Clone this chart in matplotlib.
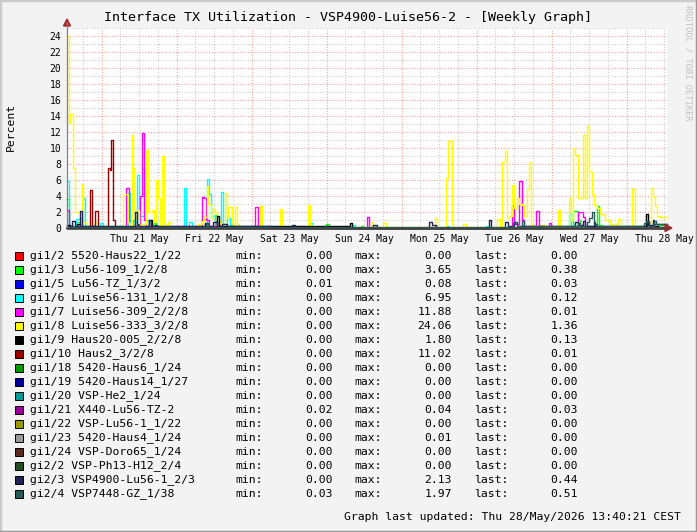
import matplotlib
matplotlib.use("Agg")
import matplotlib.pyplot as plt
from matplotlib.lines import Line2D
from matplotlib.patches import Rectangle, Polygon
from matplotlib.ticker import FixedLocator, MultipleLocator, NullFormatter

W, H = 697, 532
MONO = "DejaVu Sans Mono"

# time axis: hours since Wed 20 May 2026 00:00
t_start, t_end = 12.9, 204.9
day_ticks = [36, 60, 84, 108, 132, 156, 180, 204]
day_labels = ["Thu 21 May", "Fri 22 May", "Sat 23 May", "Sun 24 May",
              "Mon 25 May", "Tue 26 May", "Wed 27 May", "Thu 28 May"]

names = ["gi1/2 5520-Haus22_1/22", "gi1/3 Lu56-109_1/2/8", "gi1/5 Lu56-TZ_1/3/2",
         "gi1/6 Luise56-131_1/2/8", "gi1/7 Luise56-309_2/2/8", "gi1/8 Luise56-333_3/2/8",
         "gi1/9 Haus20-005_2/2/8", "gi1/10 Haus2_3/2/8", "gi1/18 5420-Haus6_1/24",
         "gi1/19 5420-Haus14_1/27", "gi1/20 VSP-He2_1/24", "gi1/21 X440-Lu56-TZ-2",
         "gi1/22 VSP-Lu56-1_1/22", "gi1/23 5420-Haus4_1/24", "gi1/24 VSP-Doro65_1/24",
         "gi2/2 VSP-Ph13-H12_2/4", "gi2/3 VSP4900-Lu56-1_2/3", "gi2/4 VSP7448-GZ_1/38"]
colors = ["#ff0000", "#00ff00", "#0000ff", "#00ffff", "#ff00ff", "#ffff00",
          "#000000", "#990000", "#009900", "#000099", "#009999", "#990099",
          "#999900", "#999999", "#582a22", "#225022", "#222255", "#2a5b5b"]
mins = [0.00, 0.00, 0.01, 0.00, 0.00, 0.00, 0.00, 0.00, 0.00,
        0.00, 0.00, 0.02, 0.00, 0.00, 0.00, 0.00, 0.00, 0.03]
maxs = [0.00, 3.65, 0.08, 6.95, 11.88, 24.06, 1.80, 11.02, 0.00,
        0.00, 0.00, 0.04, 0.00, 0.01, 0.00, 0.00, 2.13, 1.97]
lasts = [0.00, 0.38, 0.03, 0.12, 0.01, 1.36, 0.13, 0.01, 0.00,
         0.00, 0.00, 0.03, 0.00, 0.00, 0.00, 0.00, 0.44, 0.51]

# step data (time, value), value held until next time
g13_t = [12.9, 13.6, 15.8, 17.1, 34.1, 34.7, 40.7, 41.5, 60.3, 60.8, 95.8, 96.7, 106.9, 107.5,
         174.9, 176.4, 177.0, 182.4, 183.0, 184.0, 197.2, 198.2, 202.0, 204.9]
g13_v = [3.65, 0.2, 0.7, 0.2, 1.0, 0.1, 0.8, 0.1, 1.6, 0.1, 0.5, 0.0, 0.2, 0.0,
         2.1, 1.0, 0.3, 2.7, 0.4, 0.1, 0.4, 0.1, 0.38, 0.38]

g15_t = [12.9, 204.9]
g15_v = [0.03, 0.03]

g16_t = [12.9, 13.6, 15.8, 17.1, 17.6, 18.1, 18.7, 23.5, 24.5, 32.3, 33.1, 35.2, 36.0, 37.5,
         38.2, 39.0, 46.9, 47.5, 50.4, 50.9, 51.9, 52.8, 57.6, 58.2, 58.9, 60.3, 62.2, 62.7,
         64.0, 65.1, 66.0, 90.7, 91.4, 104.3, 105.2, 134.5, 135.0, 146.9, 147.5, 173.6, 174.3,
         202.0, 204.9]
g16_v = [5.9, 0.3, 1.1, 1.3, 0.8, 3.7, 0.3, 0.6, 0.1, 4.4, 0.8, 6.6, 1.5, 6.95,
         1.0, 0.3, 0.3, 0.0, 5.0, 0.0, 0.8, 0.2, 6.1, 4.2, 1.5, 0.8, 4.5, 0.5,
         1.2, 0.4, 0.1, 0.6, 0.0, 0.35, 0.0, 0.3, 0.0, 0.3, 0.0, 1.8, 0.3,
         0.12, 0.12]

g17_t = [12.9, 13.6, 31.7, 32.6, 36.3, 36.8, 37.5, 38.2, 56.2, 56.8, 57.4, 58.2, 60.8, 61.9,
         73.1, 73.9, 87.5, 88.0, 108.8, 109.5, 155.3, 156.0, 157.5, 158.4, 159.2, 163.0, 163.9,
         167.2, 167.8, 176.4, 177.9, 178.7, 180.0, 202.0, 204.9]
g17_v = [2.3, 0.1, 5.0, 0.3, 4.0, 11.88, 1.0, 0.2, 3.9, 3.7, 1.0, 0.3, 1.0, 0.1,
         2.6, 0.1, 0.2, 0.0, 1.4, 0.0, 2.9, 0.5, 5.9, 1.0, 0.2, 2.1, 0.1,
         0.6, 0.0, 2.0, 1.4, 0.3, 0.1, 0.01, 0.01]

g18_t = [12.9, 13.6, 14.0, 14.7, 15.5, 17.6, 18.1, 19.2, 19.6, 21.9, 22.7, 30.9, 31.6, 32.3,
         32.7, 33.6, 34.1, 34.3, 34.7, 35.2, 36.0, 38.2, 38.9, 40.0, 40.7, 41.5, 41.9, 42.7,
         43.3, 43.8, 44.5, 45.2, 46.1, 54.9, 56.2, 56.8, 57.6, 58.1, 58.9, 59.7, 60.3, 60.8,
         61.9, 63.5, 64.2, 64.5, 65.6, 66.7, 67.4, 68.0, 74.7, 75.2, 81.1, 81.6, 90.1, 90.7,
         91.4, 110.2, 110.9, 114.1, 115.0, 130.7, 131.4, 134.2, 134.9, 136.0, 136.5, 139.5,
         140.6, 150.6, 151.5, 152.2, 153.1, 153.8, 154.4, 155.2, 156.0, 156.8, 157.5, 158.4,
         159.2, 160.2, 160.7, 161.4, 162.0, 165.0, 166.0, 170.1, 170.7, 173.4, 174.1, 174.9,
         175.6, 176.4, 177.1, 177.9, 178.7, 179.4, 180.0, 180.8, 181.5, 182.4, 183.5, 185.1,
         186.6, 189.3, 190.1, 193.6, 194.7, 198.2, 198.9, 199.8, 200.5, 201.2, 201.8, 202.7,
         204.9]
g18_v = [24.06, 13.1, 14.3, 7.5, 2.0, 5.5, 0.6, 0.3, 0.1, 0.7, 0.1, 4.1, 4.2, 0.8,
         0.4, 11.6, 7.5, 2.2, 1.2, 2.2, 0.5, 9.8, 2.0, 2.2, 0.8, 6.0, 3.8, 0.4,
         9.0, 0.5, 0.3, 0.8, 0.1, 0.5, 0.9, 1.4, 5.3, 3.0, 1.2, 2.4, 2.0, 1.0,
         0.5, 4.4, 1.2, 2.6, 0.5, 2.6, 0.5, 0.1, 2.8, 0.1, 2.4, 0.1, 2.9, 0.4,
         0.1, 0.75, 0.1, 0.6, 0.1, 1.2, 0.1, 6.3, 10.9, 0.5, 0.1, 0.5,
         0.1, 1.1, 0.3, 8.3, 9.6, 1.2, 1.5, 5.4, 2.5, 3.7, 3.0, 2.9,
         1.5, 4.9, 8.2, 0.5, 0.2, 0.4, 0.1, 2.2, 0.1, 3.8, 1.0, 10.0,
         9.1, 3.7, 3.8, 11.6, 3.7, 12.75, 7.0, 4.2, 2.9, 2.5, 1.7, 1.0,
         0.5, 1.1, 0.2, 4.9, 0.2, 1.5, 0.6, 4.95, 3.9, 2.7, 1.5, 1.36,
         1.36]

g19_t = [12.9, 14.0, 16.0, 17.0, 21.0, 22.0, 39.2, 40.0, 41.0, 57.0, 58.0, 61.0, 61.5,
         103.5, 104.1, 198.3, 198.8, 200.0, 202.0, 204.9]
g19_v = [0.4, 0.1, 0.5, 0.1, 0.3, 0.1, 1.0, 0.2, 0.1, 0.6, 0.1, 1.5, 0.2,
         0.6, 0.0, 1.8, 0.4, 0.2, 0.13, 0.13]

g110_t = [12.9, 20.3, 21.0, 22.0, 22.7, 26.1, 26.7, 27.0, 27.5, 28.3, 30.0, 164.0, 165.0, 204.9]
g110_v = [0.1, 4.8, 0.2, 2.1, 0.1, 7.5, 7.2, 11.02, 1.0, 0.1, 0.0, 0.2, 0.0, 0.01]

g121_t = [12.9, 204.9]
g121_v = [0.03, 0.03]

g123_t = [12.9, 204.9]
g123_v = [0.0, 0.0]

g23_t = [12.9, 14.5, 15.3, 17.1, 17.8, 19.0, 34.7, 35.2, 39.0, 39.8, 41.0, 41.8, 59.7, 60.8,
         62.5, 64.0, 78.4, 84.8, 85.9, 95.5, 96.0, 110.7, 112.2, 128.8, 129.6, 131.0, 147.9,
         148.7, 153.1, 154.0, 156.0, 156.8, 175.5, 176.4, 178.1, 178.7, 181.5, 182.0, 198.4,
         199.0, 200.3, 200.8, 202.0, 204.9]
g23_v = [0.3, 0.9, 0.3, 2.13, 0.3, 0.2, 2.0, 0.3, 1.0, 0.3, 0.4, 0.2, 0.8, 0.2,
         0.5, 0.2, 0.0, 0.4, 0.0, 0.3, 0.0, 0.4, 0.0, 0.7, 0.4, 0.0, 1.0,
         0.0, 0.7, 0.2, 0.8, 0.3, 0.8, 0.4, 0.9, 0.3, 0.7, 0.2, 0.8,
         0.3, 1.0, 0.5, 0.44, 0.44]

g24_t = [12.9, 35.5, 36.0, 57.5, 58.0, 155.5, 156.2, 157.0, 158.4, 159.2, 176.4, 177.0, 179.4,
         180.0, 180.8, 181.5, 182.4, 197.5, 198.2, 199.0, 200.8, 201.5, 202.0, 204.9]
g24_v = [0.1, 0.5, 0.1, 0.6, 0.1, 0.6, 0.8, 0.2, 0.9, 0.2, 0.6, 0.3, 0.7,
         1.2, 1.97, 0.5, 0.2, 0.6, 0.9, 0.3, 0.9, 0.5, 0.51, 0.51]

zero_t = [12.9, 204.9]
zero_v = [0.0, 0.0]

series = [(zero_t, zero_v), (g13_t, g13_v), (g15_t, g15_v), (g16_t, g16_v), (g17_t, g17_v),
          (g18_t, g18_v), (g19_t, g19_v), (g110_t, g110_v), (zero_t, zero_v), (zero_t, zero_v),
          (zero_t, zero_v), (g121_t, g121_v), (zero_t, zero_v), (g123_t, g123_v),
          (zero_t, zero_v), (zero_t, zero_v), (g23_t, g23_v), (g24_t, g24_v)]


def fx(x):
    return x / W


def fy(y):
    return 1 - y / H


fig = plt.figure(figsize=(W / 100, H / 100), dpi=100, facecolor="#f3f3f3")

ax = fig.add_axes([fx(67), fy(228), 600 / W, 200 / H])
ax.set_facecolor("white")
ax.set_xlim(t_start, t_end)
ax.set_ylim(0, 25)

# grid: minor gray dotted, major red dotted
dots = (0, (1, 1.5))
for k in range(3, 35):
    t = 6 * k
    if t_start < t <= t_end:
        if t % 24 == 0:
            ax.axvline(t, color="#eea0a0", lw=0.8, ls=dots, zorder=0)
        else:
            ax.axvline(t, color="#cccccc", lw=0.8, ls=dots, zorder=0)
for v in range(1, 26):
    if v % 2 == 0:
        ax.axhline(v, color="#eea0a0", lw=0.8, ls=dots, zorder=0)
    else:
        ax.axhline(v, color="#cccccc", lw=0.8, ls=dots, zorder=0)

for (t, v), c in zip(series, colors):
    ax.plot(t, v, drawstyle="steps-post", color=c, lw=1.0, clip_on=False, zorder=2)

for s in ax.spines.values():
    s.set_visible(False)

ax.xaxis.set_major_locator(FixedLocator(day_ticks))
ax.set_xticklabels(day_labels)
ax.yaxis.set_major_locator(MultipleLocator(2))
ax.tick_params(length=0, labelsize=7, pad=4)
for lab in ax.get_xticklabels() + ax.get_yticklabels():
    lab.set_family(MONO)

# axis lines with arrows
fig.add_artist(Line2D([fx(67), fx(67)], [fy(228), fy(22)], color="#808080", lw=0.9))
fig.add_artist(Line2D([fx(67), fx(668)], [fy(228), fy(228)], color="#404040", lw=0.9))
fig.add_artist(Polygon([[fx(67), fy(19)], [fx(63.5), fy(26)], [fx(70.5), fy(26)]],
                       closed=True, color="#a52a2a", transform=fig.transFigure))
fig.add_artist(Polygon([[fx(672), fy(228)], [fx(665), fy(224.5)], [fx(665), fy(231.5)]],
                       closed=True, color="#a52a2a", transform=fig.transFigure))

fig.text(fx(348), fy(18), "Interface TX Utilization - VSP4900-Luise56-2 - [Weekly Graph]",
         family=MONO, size=9.6, ha="center", va="center")
fig.text(fx(11), fy(127), "Percent", family=MONO, size=8.2, rotation=90,
         ha="center", va="center")
fig.text(fx(688), fy(5), "RRDTOOL / TOBI OETIKER", family=MONO, size=6.3, rotation=270,
         ha="center", va="top", color="#c0c0c0")

# legend
for i in range(len(names)):
    y = 256 + 14 * i
    fig.add_artist(Rectangle((fx(15), fy(y + 4)), 8 / W, 8 / H, transform=fig.transFigure,
                             facecolor=colors[i], edgecolor="black", lw=0.7))
    fig.text(fx(30), fy(y), names[i], family=MONO, size=8.2, va="center")
    fig.text(fx(235), fy(y), "min:", family=MONO, size=8.2, va="center")
    fig.text(fx(333), fy(y), "%.2f" % mins[i], family=MONO, size=8.2, va="center", ha="right")
    fig.text(fx(354), fy(y), "max:", family=MONO, size=8.2, va="center")
    fig.text(fx(452), fy(y), "%.2f" % maxs[i], family=MONO, size=8.2, va="center", ha="right")
    fig.text(fx(474), fy(y), "last:", family=MONO, size=8.2, va="center")
    fig.text(fx(578), fy(y), "%.2f" % lasts[i], family=MONO, size=8.2, va="center", ha="right")

fig.text(fx(681), fy(517), "Graph last updated: Thu 28/May/2026 13:40:21 CEST",
         family=MONO, size=8.2, va="center", ha="right")

# 3d frame
fig.add_artist(Line2D([0, 0], [0, 1], color="#cbcbcb", lw=2.5))
fig.add_artist(Line2D([0, 1], [1, 1], color="#cbcbcb", lw=2.5))
fig.add_artist(Line2D([1, 1], [0, 1], color="#999999", lw=2.5))
fig.add_artist(Line2D([0, 1], [0, 0], color="#999999", lw=2.5))

fig.savefig("out.png", dpi=100, facecolor=fig.get_facecolor())
